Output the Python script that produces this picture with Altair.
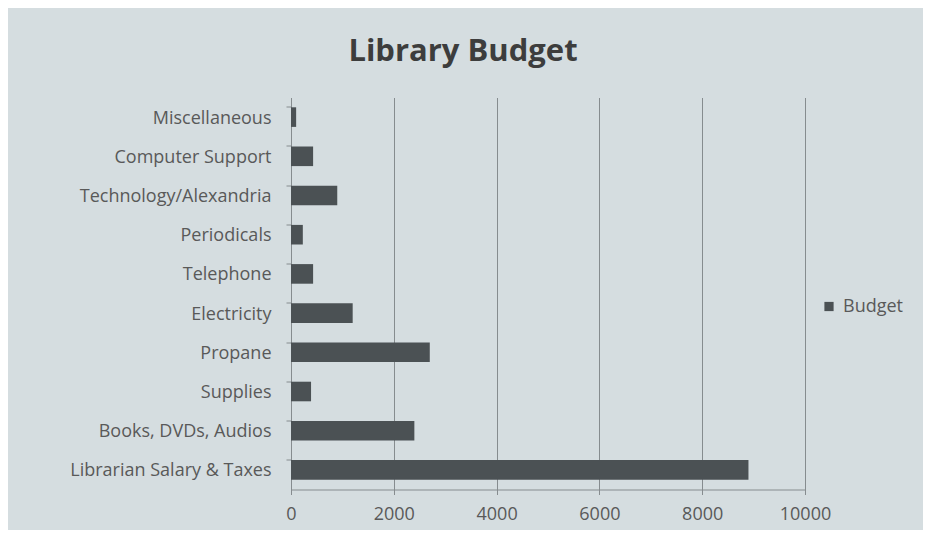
import altair as alt
import pandas as pd

categories = [
    "Miscellaneous",
    "Computer Support",
    "Technology/Alexandria",
    "Periodicals",
    "Telephone",
    "Electricity",
    "Propane",
    "Supplies",
    "Books, DVDs, Audios",
    "Librarian Salary & Taxes",
]
budget = [100, 430, 900, 230, 430, 1200, 2700, 390, 2400, 8900]
series = ["Budget"] * len(categories)

df = pd.DataFrame({"category": categories, "value": budget, "series": series})

BG = "#d5dde0"
TEXT = "#595959"
FONT = "Open Sans"

chart = (
    alt.Chart(df)
    .mark_bar(color="#4b5154")
    .encode(
        x=alt.X(
            "value:Q",
            scale=alt.Scale(domain=[0, 10000], nice=False),
            axis=alt.Axis(
                values=[0, 2000, 4000, 6000, 8000, 10000],
                title=None,
                grid=True,
                gridColor="#868c8f",
                gridWidth=1,
                domainColor="#868c8f",
                tickColor="#868c8f",
                tickSize=5,
                labelPadding=11,
                labelFlush=False,
                labelFont=FONT,
                labelFontSize=18,
                labelColor=TEXT,
                format="d",
            ),
        ),
        y=alt.Y(
            "category:N",
            sort=categories,
            scale=alt.Scale(paddingInner=0.5, paddingOuter=0.25),
            axis=alt.Axis(
                title=None,
                domainColor="#868c8f",
                tickColor="#868c8f",
                tickSize=5,
                bandPosition=0,
                labelPadding=15,
                labelLimit=400,
                labelOffset=1.5,
                labelFont=FONT,
                labelFontSize=18,
                labelColor=TEXT,
            ),
        ),
        color=alt.Color(
            "series:N",
            scale=alt.Scale(range=["#4b5154"]),
            legend=alt.Legend(
                title=None,
                orient="none",
                legendX=529,
                legendY=200,
                symbolType="square",
                symbolSize=85,
                symbolStrokeWidth=0,
                labelFont=FONT,
                labelFontSize=18,
                labelColor=TEXT,
                labelOffset=5,
            ),
        ),
    )
    .properties(
        width=514,
        height=392,
        title=alt.Title(
            "Library Budget",
            font=FONT,
            fontSize=31,
            fontWeight="bold",
            color="#3d3d3d",
            anchor="middle",
            dx=-85,
            offset=30,
        ),
        autosize=alt.AutoSizeParams(type="none"),
        padding={"left": 283, "top": 89.5, "right": 118, "bottom": 40.5},
    )
    .configure(background=BG)
    .configure_view(stroke=None, fill=BG)
)

chart.save("out.html", embed_options={"renderer": "svg", "actions": False})
